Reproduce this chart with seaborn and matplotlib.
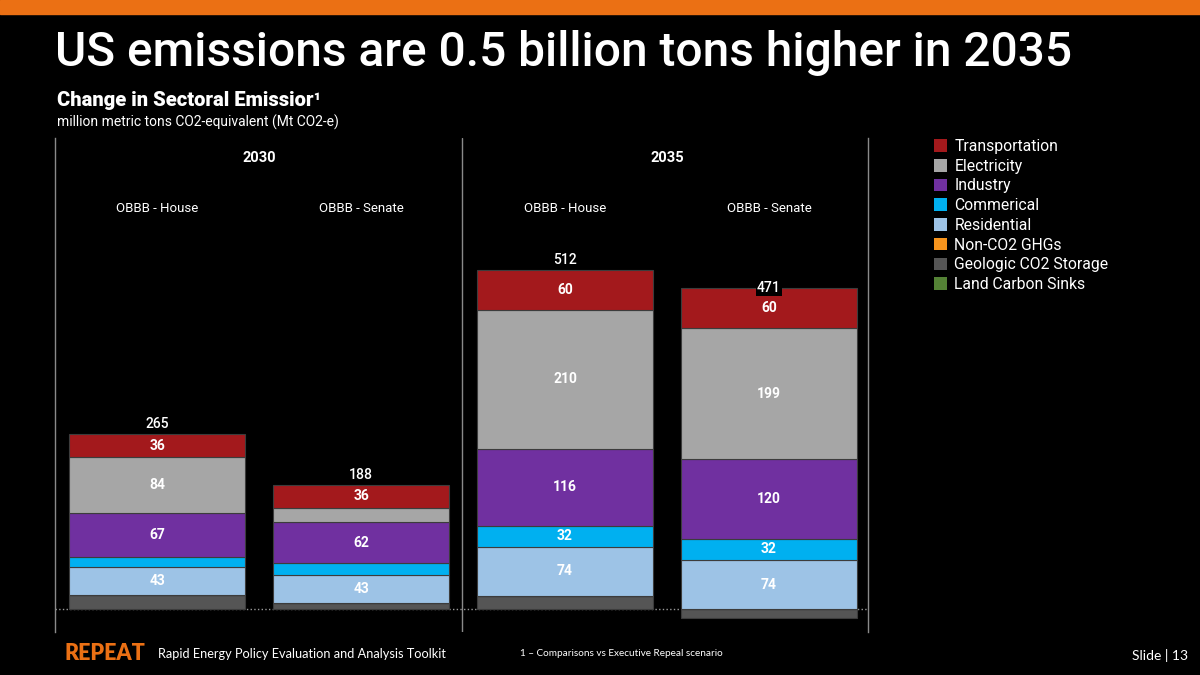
import numpy as np
import pandas as pd
import matplotlib
matplotlib.use("Agg")
import matplotlib.pyplot as plt
from matplotlib.patches import Patch
import seaborn as sns

# data (Mt CO2-e)
bar_ids = [0, 1, 2, 3]
years = ["2030", "2035"]
scenarios = ["OBBB - House", "OBBB - Senate", "OBBB - House", "OBBB - Senate"]
totals = [265, 188, 512, 471]

sectors = ["Transportation", "Electricity", "Industry", "Commerical", "Residential",
           "Non-CO2 GHGs", "Geologic CO2 Storage", "Land Carbon Sinks"]
transportation = [36, 36, 60, 60]
electricity = [84, 21, 210, 199]
industry = [67, 62, 116, 120]
commercial = [14, 17, 32, 32]
residential = [43, 43, 74, 74]
non_co2 = [0, 0, 0, 0]
geologic = [21, 9, 20, -14]
land = [0, 0, 0, 0]

colors = {
    "Transportation": "#A3191C",
    "Electricity": "#A6A6A6",
    "Industry": "#7030A0",
    "Commerical": "#00B0F0",
    "Residential": "#9DC3E6",
    "Non-CO2 GHGs": "#F7941D",
    "Geologic CO2 Storage": "#555555",
    "Land Carbon Sinks": "#548235",
}

values = {
    "Transportation": transportation,
    "Electricity": electricity,
    "Industry": industry,
    "Commerical": commercial,
    "Residential": residential,
    "Non-CO2 GHGs": non_co2,
    "Geologic CO2 Storage": geologic,
    "Land Carbon Sinks": land,
}
stack_order = ["Geologic CO2 Storage", "Land Carbon Sinks", "Non-CO2 GHGs", "Residential",
               "Commerical", "Industry", "Electricity", "Transportation"]

sns.set_theme(style="dark")
plt.rcParams["font.family"] = ["Roboto", "DejaVu Sans"]

fig = plt.figure(figsize=(12, 6.75), dpi=100, facecolor="black")
fig.patch.set_facecolor("black")

# orange strip on top
fig.patches.append(plt.Rectangle((0, 1 - 14 / 675), 1, 14 / 675, transform=fig.transFigure,
                                 color="#EB7014", zorder=0))

ax = fig.add_axes([55 / 1200, 1 - 632 / 675, 813 / 1200, 494 / 675])
ax.set_facecolor("black")

pos_bottom = np.zeros(4)
neg_bottom = np.zeros(4)
for s in stack_order:
    v = np.array(values[s], dtype=float)
    bottom = np.where(v >= 0, pos_bottom, neg_bottom)
    sns.barplot(x=bar_ids, y=v, bottom=bottom, color=colors[s], saturation=1,
                width=0.863, errorbar=None, edgecolor="#3c3c3c", linewidth=0.8, ax=ax)
    for i in range(4):
        if s != "Geologic CO2 Storage" and v[i] >= 25:
            ax.text(i, bottom[i] + v[i] / 2, f"{v[i]:.0f}", ha="center", va="center",
                    color="white", fontsize=10, fontweight="bold")
    pos_bottom = pos_bottom + np.clip(v, 0, None)
    neg_bottom = neg_bottom + np.clip(v, None, 0)

for i, t in enumerate(totals):
    ax.text(i, t + 4, str(t), ha="center", va="bottom", color="white", fontsize=10,
            fontweight="medium",
            bbox=dict(boxstyle="square,pad=0.1", facecolor="black", edgecolor="none"))

ax.set_xlim(-0.5, 3.485)
ax.set_ylim(-34.7, 711.5)
ax.axhline(0, color="#9a9a9a", linestyle=":", linewidth=1, zorder=0.5)
ax.axvline(1.495, color="#8a8a8a", linewidth=1)
for side in ["left", "right"]:
    ax.spines[side].set_visible(True)
    ax.spines[side].set_color("#8a8a8a")
    ax.spines[side].set_linewidth(1)
for side in ["top", "bottom"]:
    ax.spines[side].set_visible(False)
ax.set_xticks([])
ax.set_yticks([])
ax.set_xlabel("")
ax.set_ylabel("")
ax.grid(False)

tr = ax.get_xaxis_transform()
for k, yr in enumerate(years):
    ax.text(0.5 + 2 * k, 0.9595, yr, transform=tr, ha="center", va="center",
            color="white", fontsize=10.5, fontweight="bold")
for i, sc in enumerate(scenarios):
    ax.text(i, 0.858, sc, transform=tr, ha="center", va="center", color="white", fontsize=9.5)

handles = [Patch(facecolor=colors[s], edgecolor="none") for s in sectors]
fig.legend(handles, sectors, loc="upper left", bbox_to_anchor=(934 / 1200, 1 - 139 / 675),
           frameon=False, fontsize=11.3, labelcolor="white", handlelength=0.85,
           handleheight=0.85, handletextpad=0.45, labelspacing=0.3, borderaxespad=0,
           borderpad=0)

# titles
fig.text(55 / 1200, 1 - 53 / 675, "US emissions are 0.5 billion tons higher in 2035",
         color="white", fontsize=34.5, fontweight="medium", va="center", ha="left")
fig.text(57 / 1200, 1 - 101 / 675, "Change in Sectoral Emissior\u00b9", color="white",
         fontsize=14.5, fontweight="heavy", va="center", ha="left")
fig.text(57 / 1200, 1 - 122 / 675, "million metric tons CO2-equivalent (Mt CO2-e)",
         color="white", fontsize=10, va="center", ha="left")

# footer
fig.text(65 / 1200, 1 - 654 / 675, "REPEAT", color="#EB7014", fontsize=15.5, fontweight="heavy",
         family=["Lato", "DejaVu Sans"], va="center", ha="left")
fig.text(158 / 1200, 1 - 654 / 675, "Rapid Energy Policy Evaluation and Analysis Toolkit",
         color="white", fontsize=9.2, family=["Lato", "DejaVu Sans"], va="center", ha="left")
fig.text(520 / 1200, 1 - 654 / 675, "1 \u2013 Comparisons vs Executive Repeal scenario",
         color="white", fontsize=7.2, family=["Lato", "DejaVu Sans"], va="center", ha="left")
fig.text(1188 / 1200, 1 - 656 / 675, "Slide | 13", color="white", fontsize=10,
         family=["Lato", "DejaVu Sans"], va="center", ha="right")

fig.savefig("out.png", dpi=100, facecolor="black")
